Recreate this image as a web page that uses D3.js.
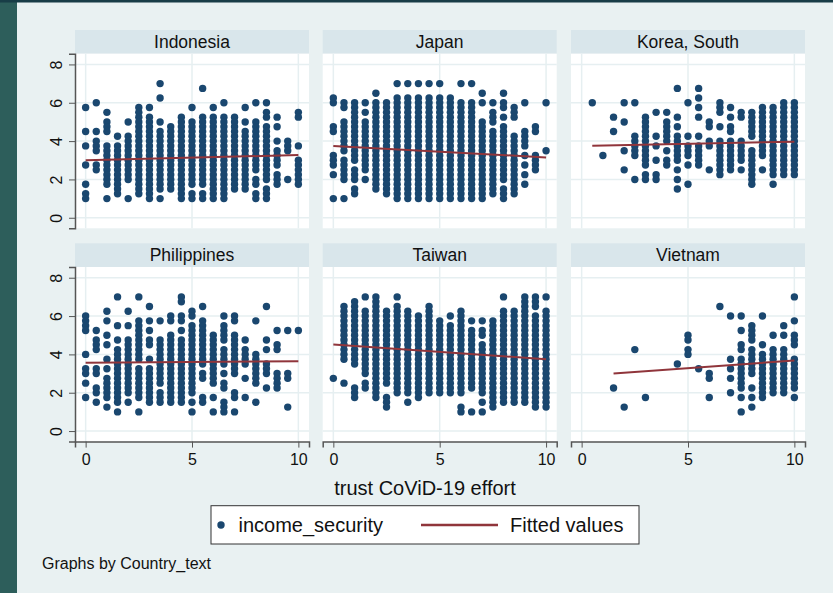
<!DOCTYPE html>
<html>
<head>
<meta charset="utf-8">
<script src="https://cdn.jsdelivr.net/npm/d3@7"></script>
<style>
  html, body { margin: 0; padding: 0; background: #e9f1f2; }
  svg { display: block; font-family: "Liberation Sans", Arial, sans-serif; }
</style>
</head>
<body>
<div id="chart"></div>
<script>
// x columns are 0..10 in half steps; each string lists the y values seen in that column,
// "a-b" meaning every quarter step from a down to b is filled
var xCols = [0, 0.5, 1, 1.5, 2, 2.5, 3, 3.5, 4, 4.5, 5, 5.5, 6, 6.5, 7, 7.5, 8, 8.5, 9, 9.5, 10];

var countries = ["Indonesia", "Japan", "Korea, South", "Philippines", "Taiwan", "Vietnam"];

var indonesia = ["5.75 4.5 3.75 2.75 1.75 1.25 1", "6 4.5 4-3.5 2.75-2.5", "5.5 5-4.5 3.75-1.75 1",
  "4.25 3.75-3.5 3.25-1.25", "5 4.25-2 1", "5.75-1.25", "5.75 5.25-1", "7 6.25 5 4.5-1.5 1",
  "4.75-1.5", "5.25-1", "5.75 5-1.75 1.25 1", "6.75 5.25-1.75 1.25 1", "5.75 5.25-1", "6 5.25-1",
  "5.25-1.5", "5.75 5 4.5-1.5", "6 5-2.5 2 1.75 1.25 1", "6 5.5 5.25 4.75-2 1.5-1",
  "5.25 4.75 4 3.5-2.75 2.25-1.75", "4-3.5 2", "5.5 5.25 3.75 3-1.75"];

var japan = ["6.25 6 4.75 4.5 3.25-2.75 2.25 1", "6 5.75 5-3.5 3-2 1", "6-3 2.5-2 1.5 1.25",
  "6 5.5 5-2.5 2", "6.5 6-1.5", "6-1.25", "7 6.25-1", "7 6.25-1", "7 6.25-1", "7 6.25-1",
  "7 6.25-1", "6.25-1", "7 6-1", "7 6-1", "6.5 6 5-1", "6 5.5-5 4.5-1.25",
  "6.5 6 5.75 5.25 4.75-2 1.5-1", "5.75-5.25 4.25-1.25", "6 4.5-3.75 3.25 2.75 2.25 1.75",
  "4.75 4.5 3.25-2.5", "6 3.5"];

var korea = ["", "6", "3.25", "5.25 4.5", "6 5 3.5 2.5", "6 4.25-3.25 2", "5.25-2.75 2.25 2",
  "5.5 4.25 3.75 3 2.25 2", "5.5 5-4 3.5 3 2.75", "6.75 5.25 4.75 4.25-3 2.5 2 1.5",
  "6 4.25 3.75-3.25 2.75 1.75", "6.75 6.25 5.75 5.25 4.25 3.75-2.75", "5 4.75 4 3.75 2.5",
  "6-5.5 4.75 4-2.25", "5.75 5.25 4.75 4.5 4-2.5", "5.5 5.25 4-3 2.5", "5.5-4.25 3.5-1.75",
  "5.75-3.25 2.5", "5.75-2.25 1.75", "6-2.25", "6-2.25"];

var philippines = ["6-5.25 4 3.25 3 2.5 1.75", "5.25 4.75-4.25 3.25 3 2.25 2 1.5",
  "6.25 5.75 5 4.5 3.75 3.25 2.75-1.75 1.25", "7 5.5 4.75 4.25-1.5 1", "6.25 5.5 4.75-2 1.5",
  "7 5.75-3.75 3.25-1.75 1", "6.5 5.75 5.25 4.75 4.5 3.75 3.25-1.5", "5.75 4.75-2.5 2-1.5",
  "6 5.75 5-2.25 2-1.5", "7 6.75 6 5.75 5.25 4.75-1.5", "6.25 6 5.5-2 1.5 1",
  "6.5 5.75-3.5 3 2.75 1.75 1.5", "5-2.5 1.75 1", "6 5.5-4.75 4.25-3.5 3 2.5 2.25 1.5-1",
  "6 5.75 5-3 2 1.75 1", "4.75 4.25-3.5 2.75 1.75", "5.75 4-2.5 1.5", "6.5 4.75 4.25 3.5-3 2.25",
  "5.25 4.5 4.25 3-2.25", "5.25 3 2.75 1.25", "5.25"];

var taiwan = ["2.75", "6.5-3.75 2.5", "6.75-3.5 2.25-1.75", "7 6.25-3 2.5 2.25", "7-1.75",
  "6.25-2.5 1.75-1.25", "7 6.5-2", "6.25-2 1.5", "6-1.75", "6.5-2", "5.75-2", "6 5.5-2",
  "6.25-2 1.25 1", "5.75 5.25-2.25 1", "5.75 5.25 5 4.5-2 1.5 1", "5.75-1.25", "7 6.25-1.5",
  "6.25-1.5", "7-1.5", "7-6.5 6-1.25", "7 6.25-1.25"];

var vietnam = ["", "", "", "2.25", "1.25", "4.25", "1.75", "", "", "3.5", "5 4.75 4.25 4", "3.25",
  "3 2.75 1.75", "6.5", "6 3.75 3.25 2.75 2", "6 5.25 4.5 4.25 3.75-2.25 1.75 1",
  "5.5-4.75 4.25-3 2.25 1.75 1.25", "6 4.5 4-1.75", "5 4.25-2", "5.5 5 4.25-2",
  "7 5.75 5-4.5 3.75-2.25 1.75"];

// fitted line: start x, start y, end x, end y per country
var fitX0 = [0, 0, 0.5, 0, 0, 1.5];
var fitY0 = [3.0, 3.74, 3.76, 3.57, 4.51, 3.0];
var fitX1 = [10, 10, 10, 10, 10, 10];
var fitY1 = [3.27, 3.15, 3.97, 3.64, 3.75, 3.68];

var yTicks = [0, 2, 4, 6, 8];
var xTicks = [0, 5, 10];

var series = [indonesia, japan, korea, philippines, taiwan, vietnam];

var width = 833, height = 593;
var colLeft = [75, 322.7, 571],
    rowTop = [30, 243.3],
    panelW = 234,
    headerH = 23.7,
    plotH = 174.6;

var navy = "#1a476f", maroon = "#90353b";

var x = d3.scaleLinear().domain([-0.5, 10.5]).range([0, panelW]);
var y = d3.scaleLinear().domain([-0.55, 8.56]).range([plotH, 0]);

function parseCol(str) {
  var out = [];
  str.split(" ").filter(function(s) { return s.length; }).forEach(function(tok) {
    var parts = tok.split("-").map(Number);
    if (parts.length === 1) { out.push(parts[0]); return; }
    for (var v = parts[0]; v >= parts[1] - 1e-9; v -= 0.25) out.push(v);
  });
  return out;
}

var svg = d3.select("#chart").append("svg")
    .attr("width", width)
    .attr("height", height);

// slide frame
svg.append("rect").attr("width", width).attr("height", height).attr("fill", "#e9f1f2");
svg.append("rect").attr("x", 0).attr("y", 0).attr("width", 17).attr("height", height).attr("fill", "#2d5e5b");
svg.append("rect").attr("x", 0).attr("y", 0).attr("width", width).attr("height", 2.5).attr("fill", "#183d47");

countries.forEach(function(name, i) {
  var c = i % 3, r = Math.floor(i / 3);
  var g = svg.append("g")
      .attr("transform", "translate(" + colLeft[c] + "," + rowTop[r] + ")");

  // header strip
  g.append("rect")
      .attr("width", panelW).attr("height", headerH)
      .attr("fill", "#d9e6eb");
  g.append("text")
      .attr("x", panelW / 2).attr("y", 17.7)
      .attr("text-anchor", "middle")
      .attr("font-size", "17.5px")
      .attr("fill", "#111")
      .text(name);

  var p = g.append("g").attr("transform", "translate(0," + headerH + ")");
  p.append("rect").attr("width", panelW).attr("height", plotH).attr("fill", "#fff");

  p.selectAll(".hgrid").data(yTicks).enter().append("line")
      .attr("x1", 0).attr("x2", panelW)
      .attr("y1", function(d) { return y(d); }).attr("y2", function(d) { return y(d); })
      .attr("stroke", "#e6eff1").attr("stroke-width", 1.5);
  p.selectAll(".vgrid").data(xTicks).enter().append("line")
      .attr("y1", 0).attr("y2", plotH)
      .attr("x1", function(d) { return x(d); }).attr("x2", function(d) { return x(d); })
      .attr("stroke", "#e6eff1").attr("stroke-width", 1.5);

  var pts = [];
  series[i].forEach(function(str, k) {
    parseCol(str).forEach(function(v) { pts.push([xCols[k], v]); });
  });

  p.selectAll("circle").data(pts).enter().append("circle")
      .attr("cx", function(d) { return x(d[0]); })
      .attr("cy", function(d) { return y(d[1]); })
      .attr("r", 3.7)
      .attr("fill", navy);

  p.append("line")
      .attr("x1", x(fitX0[i])).attr("y1", y(fitY0[i]))
      .attr("x2", x(fitX1[i])).attr("y2", y(fitY1[i]))
      .attr("stroke", maroon).attr("stroke-width", 2);

  // y axis on first column
  if (c === 0) {
    var ya = p.append("g").call(d3.axisLeft(y).tickValues(yTicks).tickSize(6).tickPadding(6));
    ya.select(".domain").attr("stroke", "#555").attr("stroke-width", 1.5);
    ya.selectAll(".tick line").attr("stroke", "#555");
    ya.selectAll(".tick text")
        .attr("font-size", "16px").attr("fill", "#111")
        .attr("font-family", "Liberation Sans, Arial, sans-serif")
        .attr("text-anchor", "middle")
        .attr("dy", null)
        .attr("x", null)
        .attr("transform", "translate(-13,0) rotate(-90)")
        .attr("y", 0);
  }
  // x axis on bottom row
  if (r === 1) {
    var xa = p.append("g").attr("transform", "translate(0," + plotH + ")")
        .call(d3.axisBottom(x).tickValues(xTicks).tickSize(6).tickPadding(6));
    xa.select(".domain").attr("stroke", "#555").attr("stroke-width", 1.5);
    xa.selectAll(".tick line").attr("stroke", "#555");
    xa.selectAll(".tick text")
        .attr("font-size", "16px").attr("fill", "#111")
        .attr("font-family", "Liberation Sans, Arial, sans-serif");
  }
});

svg.append("text")
    .attr("x", 425).attr("y", 495)
    .attr("text-anchor", "middle")
    .attr("font-size", "20px")
    .attr("fill", "#111")
    .text("trust CoViD-19 effort");

// legend
var lg = svg.append("g");
lg.append("rect")
    .attr("x", 211).attr("y", 505.7).attr("width", 428).attr("height", 38.3)
    .attr("fill", "#fff").attr("stroke", "#333").attr("stroke-width", 1);
lg.append("circle").attr("cx", 221).attr("cy", 525).attr("r", 3.7).attr("fill", navy);
lg.append("text").attr("x", 238.5).attr("y", 531.5)
    .attr("font-size", "20px").attr("fill", "#111").text("income_security");
lg.append("line").attr("x1", 421).attr("x2", 498).attr("y1", 525).attr("y2", 525)
    .attr("stroke", maroon).attr("stroke-width", 2.5);
lg.append("text").attr("x", 510).attr("y", 531.5)
    .attr("font-size", "20px").attr("fill", "#111").text("Fitted values");

svg.append("text")
    .attr("x", 42).attr("y", 568.5)
    .attr("font-size", "16px").attr("fill", "#111")
    .text("Graphs by Country_text");
</script>
</body>
</html>
